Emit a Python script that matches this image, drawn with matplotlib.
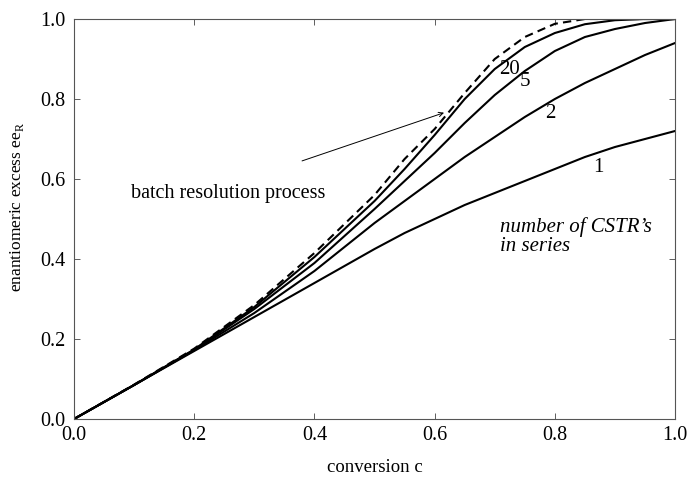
import matplotlib
matplotlib.use("Agg")
import matplotlib.pyplot as plt

# conversion grid and ee_R
conv = [0.0, 0.1, 0.2, 0.3, 0.4, 0.5, 0.55, 0.6, 0.65, 0.7, 0.75, 0.8, 0.85, 0.9, 0.95, 1.0]
ee_n1 = [0.0, 0.085, 0.17, 0.255, 0.34, 0.425, 0.465, 0.50, 0.535, 0.565, 0.595, 0.625, 0.655, 0.68, 0.70, 0.72]
ee_n2 = [0.0, 0.085, 0.172, 0.265, 0.37, 0.49, 0.545, 0.60, 0.655, 0.705, 0.755, 0.80, 0.84, 0.875, 0.91, 0.94]
ee_n5 = [0.0, 0.085, 0.173, 0.275, 0.39, 0.525, 0.595, 0.665, 0.74, 0.81, 0.87, 0.92, 0.955, 0.975, 0.99, 1.0]
ee_n20 = [0.0, 0.085, 0.174, 0.28, 0.405, 0.545, 0.625, 0.71, 0.80, 0.875, 0.93, 0.965, 0.987, 0.997, 1.0, 1.0]
ee_batch = [0.0, 0.086, 0.176, 0.285, 0.415, 0.56, 0.65, 0.725, 0.815, 0.90, 0.955, 0.988, 1.0, 1.0, 1.0, 1.0]

curve_labels = ["1", "2", "5", "20"]
label_pos = [(0.872, 0.63), (0.792, 0.765), (0.75, 0.843), (0.725, 0.873)]

ticks = [0.0, 0.2, 0.4, 0.6, 0.8, 1.0]
tick_labels = ["0.0", "0.2", "0.4", "0.6", "0.8", "1.0"]

plt.rcParams["font.family"] = ["Liberation Serif", "DejaVu Serif"]
plt.rcParams["mathtext.fontset"] = "custom"
plt.rcParams["mathtext.rm"] = "Liberation Serif"

fig = plt.figure(figsize=(6.92, 4.79), dpi=100)
ax = fig.add_axes([0.107, 0.1253, 0.8685, 0.835])

for ee in (ee_n1, ee_n2, ee_n5, ee_n20):
    ax.plot(conv, ee, color="black", linewidth=1.5)
ax.plot(conv, ee_batch, color="black", linewidth=1.5, linestyle=(0, (4, 2.5)))

for txt, (x, y) in zip(curve_labels, label_pos):
    ax.text(x, y, txt, fontsize=15, ha="center", va="center")

ax.text(0.094, 0.565, "batch resolution process", fontsize=14.5, va="center")
ax.annotate("", xy=(0.62, 0.768), xytext=(0.375, 0.643),
            arrowprops=dict(arrowstyle="->", color="black", lw=0.7, mutation_scale=8))
ax.text(0.709, 0.48, "number of CSTR\u2019s", fontsize=15, style="italic", va="center")
ax.text(0.709, 0.43, "in series", fontsize=15, style="italic", va="center")

ax.set_xlim(0, 1)
ax.set_ylim(0, 1)
ax.set_xticks(ticks)
ax.set_yticks(ticks)
ax.set_xticklabels(tick_labels)
ax.set_yticklabels(tick_labels)
ax.tick_params(direction="in", length=4, width=0.6, top=True, right=True,
               labelsize=14.5, colors="#444444", labelcolor="black")
ax.tick_params(axis="y", pad=6)
ax.tick_params(axis="x", pad=5)
for sp in ax.spines.values():
    sp.set_linewidth(0.8)
    sp.set_color("#555555")

ax.set_xlabel("conversion c", fontsize=13.5, labelpad=10)
ax.set_ylabel(r"enantiomeric excess ee$_{\mathregular{R}}$", fontsize=12.5)
ax.yaxis.set_label_coords(-0.08, 0.53)

fig.savefig("out.png", dpi=100)
